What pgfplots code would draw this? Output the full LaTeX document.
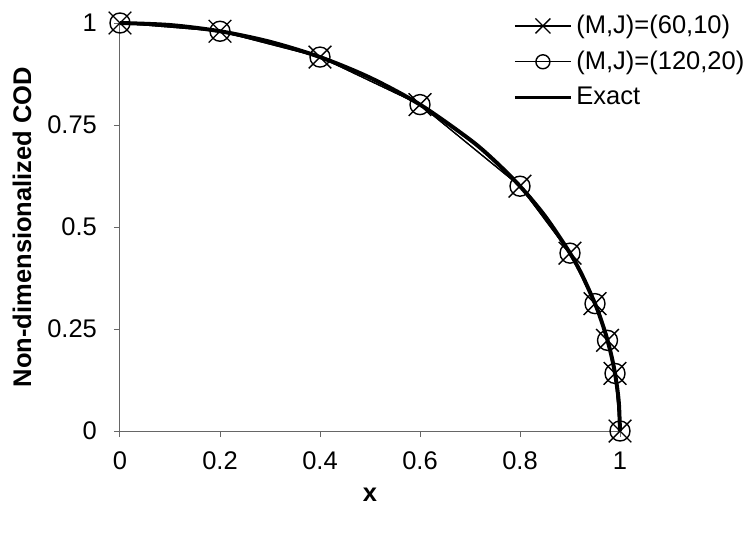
\documentclass[border=0pt]{standalone}
\usepackage{pgfplots}
\pgfplotsset{compat=1.18}
\usepackage{fontspec}
\setmainfont{Liberation Sans}
\newcommand{\fs}{\fontsize{12.75}{15}\selectfont}

\begin{document}
\begin{tikzpicture}
% fix the page to the reference size (0.5pt per pixel)
\useasboundingbox (-60pt,-53pt) rectangle (314.5pt,215.5pt);
\begin{axis}[
  at={(0pt,0pt)}, anchor=origin,
  scale only axis,
  width=250pt, height=204pt,
  xmin=0, xmax=1, ymin=0, ymax=1,
  enlargelimits=false,
  axis x line=bottom, axis y line=left,
  axis line style={-, gray!80!black, line width=0.5pt},
  tick style={gray!80!black, line width=0.5pt},
  tick align=outside,
  major tick length=3pt,
  xtick={0,0.2,0.4,0.6,0.8,1},
  ytick={0,0.25,0.5,0.75,1},
  yticklabels={0,0.25,0.5,0.75,1},
  xticklabels={0,0.2,0.4,0.6,0.8,1},
  /pgf/number format/assume math mode=true,
  tick label style={font=\fs},
  xticklabel style={yshift=-4pt},
  yticklabel style={xshift=-5pt},
  xlabel={\textbf{x}},
  ylabel={\textbf{Non-dimensionalized COD}},
  xlabel style={at={([yshift=-32pt]axis description cs:0.5,0)}, anchor=center, font=\fs},
  ylabel style={at={([xshift=-49pt]axis description cs:0,0.5)}, anchor=center, font=\fs},
  clip=false,
  legend style={at={(rel axis cs:0.786,1.03)}, anchor=north west, draw=none, fill=none,
    font=\fs, inner sep=0pt, row sep=3.2pt, cells={anchor=west}},
  legend image code/.code={\draw[mark repeat=2,mark phase=2,#1] plot coordinates {(0pt,0pt) (14pt,0pt) (28pt,0pt)};},
]
% x mark is drawn at 0.707 * mark size
\addplot[black, line width=0.6pt, mark=x, mark size=8pt, mark options={line width=0.7pt},
  legend image post style={mark size=5.3pt}]
coordinates {
 (0,1) (0.2,0.9798) (0.4,0.9165) (0.6,0.8) (0.8,0.6) (0.9,0.4359)
 (0.95,0.3122) (0.975,0.2222) (0.99,0.1411) (1,0)
};
\addlegendentry{(M,J)=(60,10)}
\addplot[black, line width=0.6pt, mark=o, mark size=5pt, mark options={line width=0.7pt},
  legend image post style={mark size=3.5pt}]
coordinates {
 (0,1) (0.2,0.9798) (0.4,0.9165) (0.6,0.8) (0.8,0.6) (0.9,0.4359)
 (0.95,0.3122) (0.975,0.2222) (0.99,0.1411) (1,0)
};
\addlegendentry{(M,J)=(120,20)}
\addplot[black, line width=2pt, smooth, legend image post style={line width=1.5pt}]
coordinates {
 (0,1) (0.1,0.995) (0.2,0.9798) (0.3,0.9539) (0.4,0.9165) (0.5,0.866)
 (0.6,0.8) (0.7,0.7141) (0.75,0.6614) (0.8,0.6) (0.85,0.5268) (0.9,0.4359)
 (0.925,0.38) (0.95,0.3122) (0.96,0.28) (0.97,0.2431) (0.975,0.2222)
 (0.98,0.199) (0.985,0.1726) (0.99,0.1411) (0.995,0.0999) (0.998,0.0632) (1,0)
};
\addlegendentry{Exact}
\end{axis}
\end{tikzpicture}
\end{document}
